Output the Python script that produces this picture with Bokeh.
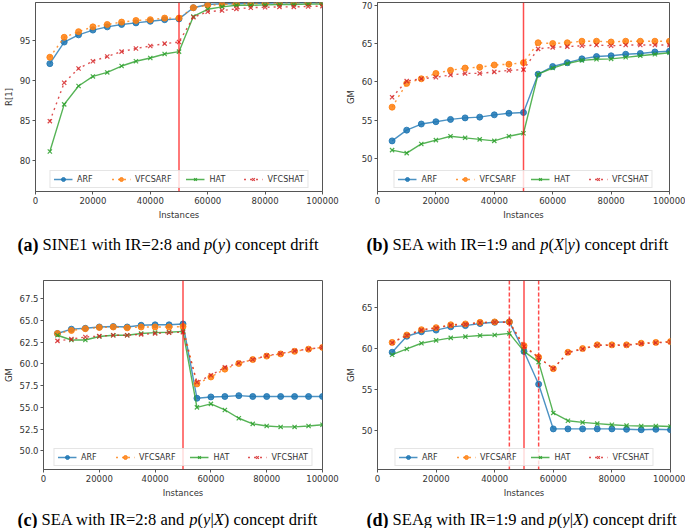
from bokeh.plotting import figure
from bokeh.layouts import column, row
from bokeh.models import Span, Label, FixedTicker, NumeralTickFormatter, Range1d
from bokeh.embed import file_html
from bokeh.resources import INLINE

instances = [5000, 10000, 15000, 20000, 25000, 30000, 35000, 40000, 45000, 50000,
             55000, 60000, 65000, 70000, 75000, 80000, 85000, 90000, 95000, 100000]
x_ticks = [0, 20000, 40000, 60000, 80000, 100000]
methods = ["ARF", "VFCSARF", "HAT", "VFCSHAT"]

# (a) SINE1, R[1]
a_arf = [92.1, 94.8, 95.7, 96.3, 96.7, 97.0, 97.2, 97.4, 97.6, 97.7, 99.1, 99.5, 99.6, 99.6, 99.65, 99.65, 99.7, 99.7, 99.7, 99.7]
a_vfcsarf = [92.9, 95.4, 96.1, 96.7, 97.0, 97.3, 97.5, 97.6, 97.8, 97.8, 99.1, 99.4, 99.5, 99.6, 99.6, 99.65, 99.7, 99.7, 99.7, 99.7]
a_hat = [81.1, 87.0, 89.3, 90.5, 91.0, 91.8, 92.4, 92.8, 93.3, 93.6, 98.0, 98.9, 99.2, 99.4, 99.4, 99.45, 99.5, 99.5, 99.55, 99.55]
a_vfcshat = [84.9, 89.7, 91.5, 92.4, 93.0, 93.6, 94.0, 94.3, 94.6, 94.8, 97.9, 98.6, 98.75, 98.95, 99.1, 99.15, 99.2, 99.2, 99.25, 99.3]
a_yticks = [80, 85, 90, 95]

# (b) SEA IR=1:9, GM
b_arf = [52.3, 53.7, 54.5, 54.8, 55.1, 55.3, 55.4, 55.7, 55.9, 56.0, 61.0, 62.0, 62.5, 63.0, 63.3, 63.4, 63.6, 63.7, 63.9, 64.0]
b_vfcsarf = [56.7, 59.8, 60.4, 61.1, 61.5, 61.8, 61.9, 62.2, 62.3, 62.5, 65.1, 65.0, 65.1, 65.3, 65.3, 65.2, 65.3, 65.3, 65.3, 65.3]
b_hat = [51.1, 50.7, 51.9, 52.4, 52.9, 52.7, 52.5, 52.3, 52.9, 53.3, 61.0, 61.8, 62.4, 62.8, 62.95, 63.0, 63.2, 63.4, 63.6, 63.8]
b_vfcshat = [58.0, 60.1, 60.4, 60.6, 60.9, 61.1, 61.1, 61.3, 61.5, 61.6, 64.3, 64.5, 64.6, 64.7, 64.8, 64.7, 64.8, 64.8, 64.8, 64.8]
b_yticks = [50, 55, 60, 65, 70]

# (c) SEA IR=2:8, GM
c_arf = [63.5, 64.0, 64.1, 64.25, 64.3, 64.25, 64.45, 64.5, 64.5, 64.6, 56.05, 56.2, 56.25, 56.35, 56.25, 56.25, 56.25, 56.25, 56.25, 56.25]
c_vfcsarf = [63.5, 63.85, 64.05, 64.2, 64.25, 64.15, 64.25, 64.25, 64.25, 64.3, 57.7, 58.5, 59.4, 60.05, 60.5, 60.9, 61.15, 61.45, 61.7, 61.9]
c_hat = [63.3, 62.75, 62.75, 63.15, 63.3, 63.3, 63.5, 63.6, 63.65, 63.75, 55.0, 55.4, 54.7, 53.75, 53.1, 52.85, 52.75, 52.75, 52.85, 53.0]
c_vfcshat = [62.65, 62.85, 63.1, 63.2, 63.3, 63.3, 63.4, 63.5, 63.6, 63.65, 57.9, 58.7, 59.6, 60.1, 60.5, 60.95, 61.2, 61.5, 61.7, 61.9]
c_yticks = [50.0, 52.5, 55.0, 57.5, 60.0, 62.5, 65.0, 67.5]

# (d) SEAg IR=1:9, GM
d_arf = [59.5, 61.45, 62.0, 62.2, 62.6, 62.75, 63.0, 63.15, 63.2, 59.6, 55.6, 50.15, 50.15, 50.15, 50.15, 50.15, 50.1, 50.05, 50.1, 50.05]
d_vfcsarf = [60.7, 61.6, 62.25, 62.5, 62.85, 62.95, 63.15, 63.2, 63.2, 60.3, 58.9, 57.5, 59.5, 59.95, 60.4, 60.4, 60.4, 60.6, 60.7, 60.8]
d_hat = [59.2, 59.9, 60.6, 60.95, 61.25, 61.4, 61.55, 61.6, 61.8, 59.6, 58.3, 52.1, 51.15, 50.95, 50.8, 50.65, 50.55, 50.5, 50.5, 50.45]
d_vfcshat = [60.65, 61.55, 62.2, 62.45, 62.8, 62.9, 63.1, 63.15, 63.15, 60.2, 58.85, 57.5, 59.45, 59.9, 60.35, 60.35, 60.35, 60.55, 60.65, 60.75]
d_yticks = [50, 55, 60, 65]

COLORS = {"ARF": "#1f77b4", "VFCSARF": "#ff7f0e", "HAT": "#2ca02c", "VFCSHAT": "#d62728"}
DASH = {"ARF": "solid", "VFCSARF": "dotted", "HAT": "solid", "VFCSHAT": "dotted"}
MARK = {"ARF": "circle", "VFCSARF": "circle", "HAT": "x", "VFCSHAT": "x"}

# Times / Liberation Serif advance widths (1/1000 em)
W_NORMAL = {' ': 250, '(': 333, ')': 333, ':': 278, '=': 564, '1': 500, '2': 500, '8': 500, '9': 500,
            'A': 722, 'E': 611, 'I': 333, 'N': 722, 'R': 667, 'S': 556, 'X': 722, 'a': 444, 'c': 444,
            'd': 500, 'e': 444, 'f': 333, 'g': 500, 'h': 500, 'i': 278, 'n': 500, 'o': 500, 'p': 500,
            'r': 333, 't': 278, 'w': 722, 'y': 500, '|': 200}
W_ITALIC = {'p': 500, 'y': 444, 'X': 611}
W_BOLD = {'(': 333, ')': 333, 'a': 500, 'b': 556, 'c': 444, 'd': 556}
CAP_SIZE = 16.5
BOLD_SIZE = 18


def seg_width(text, style):
    if style == "bold":
        return sum(W_BOLD.get(ch, 500) for ch in text) / 1000 * BOLD_SIZE
    table = W_ITALIC if style == "italic" else W_NORMAL
    return sum(table.get(ch, 500) for ch in text) / 1000 * CAP_SIZE


SPACE_W = W_NORMAL[' '] / 1000 * CAP_SIZE


def make_panel(series, yr, yticks, yfmt, ylabel, solid, dashed,
               width, height, bl, br, bt, bb):
    p = figure(width=width, height=height, x_range=Range1d(0, 100000), y_range=Range1d(*yr),
               output_backend="svg", toolbar_location=None, title=None,
               min_border_left=bl, min_border_right=br, min_border_top=bt, min_border_bottom=bb)
    p.xgrid.visible = False
    p.ygrid.visible = False
    p.outline_line_color = "#555555"
    p.outline_line_width = 1
    for ax in (p.xaxis[0], p.yaxis[0]):
        ax.axis_line_color = "#555555"
        ax.major_tick_line_color = "#555555"
        ax.minor_tick_line_color = None
        ax.major_tick_out = 3
        ax.major_tick_in = 0
        ax.major_label_standoff = 2
        ax.axis_label_standoff = 3
        ax.major_label_text_font = "DejaVu Sans"
        ax.major_label_text_font_size = "8.5px"
        ax.major_label_text_color = "#333333"
        ax.axis_label_text_font = "DejaVu Sans"
        ax.axis_label_text_font_size = "8.5px"
        ax.axis_label_text_font_style = "normal"
        ax.axis_label_text_color = "#333333"
    p.xaxis.ticker = FixedTicker(ticks=x_ticks)
    p.xaxis.formatter = NumeralTickFormatter(format="0")
    p.xaxis.axis_label = "Instances"
    p.yaxis.ticker = FixedTicker(ticks=yticks)
    p.yaxis.formatter = NumeralTickFormatter(format=yfmt)
    p.yaxis.axis_label = ylabel

    for name, ys in zip(methods, series):
        c = COLORS[name]
        p.line(instances, ys, line_color=c, line_width=1.4, line_alpha=0.8,
               line_dash=DASH[name], legend_label=name)
        if MARK[name] == "circle":
            p.scatter(instances, ys, marker="circle", size=6, fill_color=c, line_color=c,
                      fill_alpha=0.85, line_alpha=0.85, legend_label=name)
        else:
            p.scatter(instances, ys, marker="x", size=6, line_color=c, line_width=1.2,
                      line_alpha=0.85, legend_label=name)

    for loc in solid:
        p.add_layout(Span(location=loc, dimension="height", line_color="#ff0000",
                          line_alpha=0.7, line_width=1.5))
    for loc in dashed:
        p.add_layout(Span(location=loc, dimension="height", line_color="#ff0000",
                          line_alpha=0.7, line_width=1.5, line_dash="4 2"))

    lg = p.legend[0]
    lg.location = "bottom_center"
    lg.orientation = "horizontal"
    lg.margin = 3
    lg.padding = 3
    lg.spacing = 14
    lg.glyph_width = 19
    lg.glyph_height = 10
    lg.label_height = 10
    lg.label_standoff = 5
    lg.label_text_font = "DejaVu Sans"
    lg.label_text_font_size = "8px"
    lg.label_text_color = "#333333"
    lg.border_line_color = "#cccccc"
    lg.border_line_width = 1
    lg.background_fill_alpha = 0.8
    return p


def make_caption(caption, width, height, x0, baseline):
    c = figure(width=width, height=height, x_range=Range1d(0, width), y_range=Range1d(0, height),
               output_backend="svg", toolbar_location=None, x_axis_type=None, y_axis_type=None,
               title=None, min_border=0, min_border_left=0, min_border_right=0,
               min_border_top=0, min_border_bottom=0)
    c.outline_line_color = None
    c.xgrid.visible = False
    c.ygrid.visible = False
    x = x0
    for text, style in caption:
        fs = BOLD_SIZE if style == "bold" else CAP_SIZE
        lead = len(text) - len(text.lstrip(" "))
        trail = len(text) - len(text.rstrip(" "))
        core = text.strip(" ")
        x += lead * SPACE_W
        c.add_layout(Label(x=x, y=height - baseline, text=core,
                           text_font="Liberation Serif", text_font_size=f"{fs}px",
                           text_font_style=style, text_color="black",
                           text_baseline="alphabetic", text_align="left"))
        x += seg_width(core, style) + trail * SPACE_W
    return c


cap_a = [("(a)", "bold"), (" SINE1 with IR=2:8 and ", "normal"), ("p", "italic"), ("(", "normal"),
         ("y", "italic"), (")", "normal"), (" concept drift", "normal")]
cap_b = [("(b)", "bold"), (" SEA with IR=1:9 and ", "normal"), ("p", "italic"), ("(", "normal"),
         ("X", "italic"), ("|", "normal"), ("y", "italic"), (")", "normal"), (" concept drift", "normal")]
cap_c = [("(c)", "bold"), (" SEA with IR=2:8 and ", "normal"), ("p", "italic"), ("(", "normal"),
         ("y", "italic"), ("|", "normal"), ("X", "italic"), (")", "normal"), (" concept drift", "normal")]
cap_d = [("(d)", "bold"), (" SEAg with IR=1:9 and ", "normal"), ("p", "italic"), ("(", "normal"),
         ("y", "italic"), ("|", "normal"), ("X", "italic"), (")", "normal"), (" concept drift", "normal")]

pa = make_panel([a_arf, a_vfcsarf, a_hat, a_vfcshat], (76.1, 99.75), a_yticks, "0", "R[1]",
                [50000], [], 342, 225, 30, 20, 2, 34)
pb = make_panel([b_arf, b_vfcsarf, b_hat, b_vfcshat], (45.7, 70.35), b_yticks, "0", "GM",
                [50000], [], 343, 225, 34, 16, 2, 34)
pc = make_panel([c_arf, c_vfcsarf, c_hat, c_vfcshat], (47.85, 69.6), c_yticks, "0.0", "GM",
                [50000], [], 342, 245, 38, 20, 25, 31)
pd = make_panel([d_arf, d_vfcsarf, d_hat, d_vfcshat], (45.2, 68.25), d_yticks, "0", "GM",
                [50000], [45000, 55000], 343, 245, 34, 15, 25, 31)

ca = make_caption(cap_a, 342, 30, 17, 19)
cb = make_caption(cap_b, 343, 30, 24, 19)
cc = make_caption(cap_c, 342, 28, 17, 19)
cd = make_caption(cap_d, 343, 28, 24, 19)

layout = column(row(pa, pb), row(ca, cb), row(pc, pd), row(cc, cd))
open("out.html", "w").write(file_html(layout, INLINE))
